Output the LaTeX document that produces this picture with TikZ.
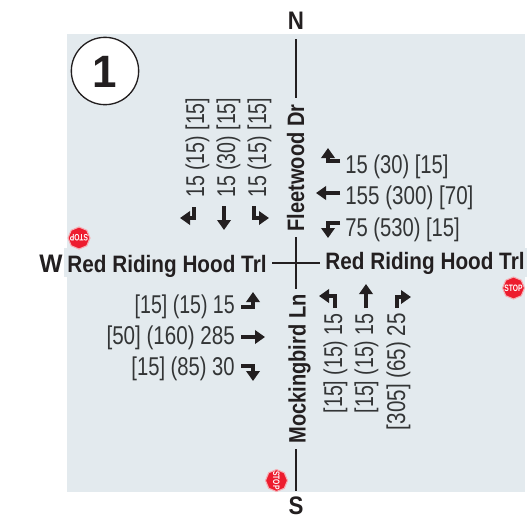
\documentclass[tikz,border=0pt]{standalone}
\usepackage{fontspec}
\usetikzlibrary{arrows.meta,shapes.geometric}
\setmainfont{Liberation Sans}
\newfontfamily\numfont[FakeStretch=0.8]{Liberation Sans}
\newfontfamily\numfontb[FakeStretch=0.785]{Liberation Sans}
\newfontfamily\numfontc[FakeStretch=0.76]{Liberation Sans}
\newfontfamily\roadfont[FakeStretch=0.873]{Liberation Sans Bold}
\newfontfamily\roadfontb[FakeStretch=0.845]{Liberation Sans Bold}
\newfontfamily\dirfont[FakeStretch=0.88]{Liberation Sans Bold}
\newfontfamily\westfont[FakeStretch=0.97]{Liberation Sans Bold}
\newfontfamily\signfont[FakeStretch=0.72]{Liberation Sans Bold}
\newcommand{\stoptext}{\makebox[0pt]{\raisebox{-0.36em}[0pt][0pt]{STOP}}}
\definecolor{panelc}{HTML}{E3EAEE}
\definecolor{ink}{HTML}{231F20}
\definecolor{numc}{HTML}{333536}
\definecolor{stopred}{HTML}{ED1C2E}
\definecolor{stopedge}{HTML}{F6AEB4}
\tikzset{
  num/.style={inner sep=0pt,text=numc,font=\numfont\fontsize{19.3}{20}\selectfont},
  numb/.style={inner sep=0pt,text=numc,font=\numfontb\fontsize{19.3}{20}\selectfont},
  numc/.style={inner sep=0pt,text=numc,font=\numfontc\fontsize{19.3}{20}\selectfont},
  road/.style={inner sep=0pt,text=ink,text depth=0pt,font=\roadfont\fontsize{17.8}{20}\selectfont},
  roadup/.style={road,rotate=90,font=\roadfontb\fontsize{17.8}{20}\selectfont},
  dirn/.style={inner sep=0pt,text=ink,font=\dirfont\fontsize{19}{20}\selectfont},
  street/.style={draw=ink,line width=1pt},
  lane/.style={draw=ink,line width=3pt,-{Triangle[width=10pt,length=7.5pt]},line join=miter},
  stopsign/.style={regular polygon,regular polygon sides=8,shape border rotate=22.5,
    minimum size=16.5pt,inner sep=0pt,fill=stopred,draw=stopedge,line width=.8pt,
    text=white,font=\signfont\fontsize{7}{8}\selectfont},
}
\begin{document}
\begin{tikzpicture}[x=0.75pt,y=-0.75pt]
\useasboundingbox (0,0) rectangle (527,519);
\fill[panelc] (67,34) rectangle (525,492);
\fill[panelc] (64,248) rectangle (527,277);
% badge
\node[circle,draw=ink,fill=white,line width=1pt,minimum size=50.5pt,inner sep=0pt] (badge) at (105,71) {};
\node[anchor=base,inner sep=0pt,text=ink,font=\westfont\fontsize{34}{35}\selectfont] (badgenum) at (105,87) {1};
% compass
\node[dirn,anchor=center] (N) at (296,21) {N};
\node[dirn,anchor=center] (S) at (296,506) {S};
\node[dirn,anchor=base,font=\westfont\fontsize{19}{20}\selectfont] (W) at (51,272) {W};
% roads
\node[roadup,text height=12pt] (fleet) at (296,168) {Fleetwood Dr};
\node[roadup,text height=14.5pt] (mock) at (296,369) {Mockingbird Ln};
\node[road,text height=13.5pt] (wroad) at (167,263) {Red Riding Hood Trl};
\node[road,text height=9pt] (eroad) at (425,263) {Red Riding Hood Trl};
\draw[street,shorten <=7pt,shorten >=5pt] (N) -- (fleet);
\draw[street,shorten <=4pt,shorten >=4pt] (fleet) -- (mock);
\draw[street,shorten <=4pt,shorten >=4.5pt] (mock) -- (S);
\draw[street,shorten <=4pt,shorten >=4pt] (wroad) -- (eroad);
% southbound
\node[numc,rotate=90,anchor=base west] (sb1) at (204,198) {15 (15) [15]};
\node[numc,rotate=90,anchor=base west] (sb2) at (235,198) {15 (30) [15]};
\node[numc,rotate=90,anchor=base west] (sb3) at (266,198) {15 (15) [15]};
\draw[lane] (194,207) -- (194,218) -- (180,218);
\draw[lane] (224,206) -- (224,230);
\draw[lane] (254,206) -- (254,218) -- (269,218);
% westbound
\node[numb,anchor=base west] (wb1) at (345,173) {15 (30) [15]};
\node[num,anchor=base west] (wb2) at (345,204) {155 (300) [70]};
\node[numb,anchor=base west] (wb3) at (345,236) {75 (530) [15]};
\draw[lane] (340,161) -- (328,161) -- (328,148);
\draw[lane] (340,193) -- (316,193);
\draw[lane] (340,223) -- (328,223) -- (328,238);
% eastbound
\node[numc,anchor=base east] (eb1) at (235,313) {[15] (15) 15};
\node[num,anchor=base east] (eb2) at (235,344) {[50] (160) 285};
\node[numb,anchor=base east] (eb3) at (235,375) {[15] (85) 30};
\draw[lane] (241,307) -- (253,307) -- (253,292);
\draw[lane] (241,337) -- (265,337);
\draw[lane] (241,366) -- (253,366) -- (253,381);
% northbound
\node[numc,rotate=90,anchor=base east] (nb1) at (342,313) {[15] (15) 15};
\node[numc,rotate=90,anchor=base east] (nb2) at (373,313) {[15] (15) 15};
\node[num,rotate=90,anchor=base east] (nb3) at (405,313) {[305] (65) 25};
\draw[lane] (335,308) -- (335,296) -- (319,296);
\draw[lane] (366,308) -- (366,284);
\draw[lane] (397,308) -- (397,297) -- (411,297);
% stop signs
\node[stopsign,rotate=180] (stopw) at (79,238) {\stoptext};
\node[stopsign] (stope) at (513.5,288) {\stoptext};
\node[stopsign,rotate=-90] (stops) at (276.5,480.5) {\stoptext};
\end{tikzpicture}
\end{document}
